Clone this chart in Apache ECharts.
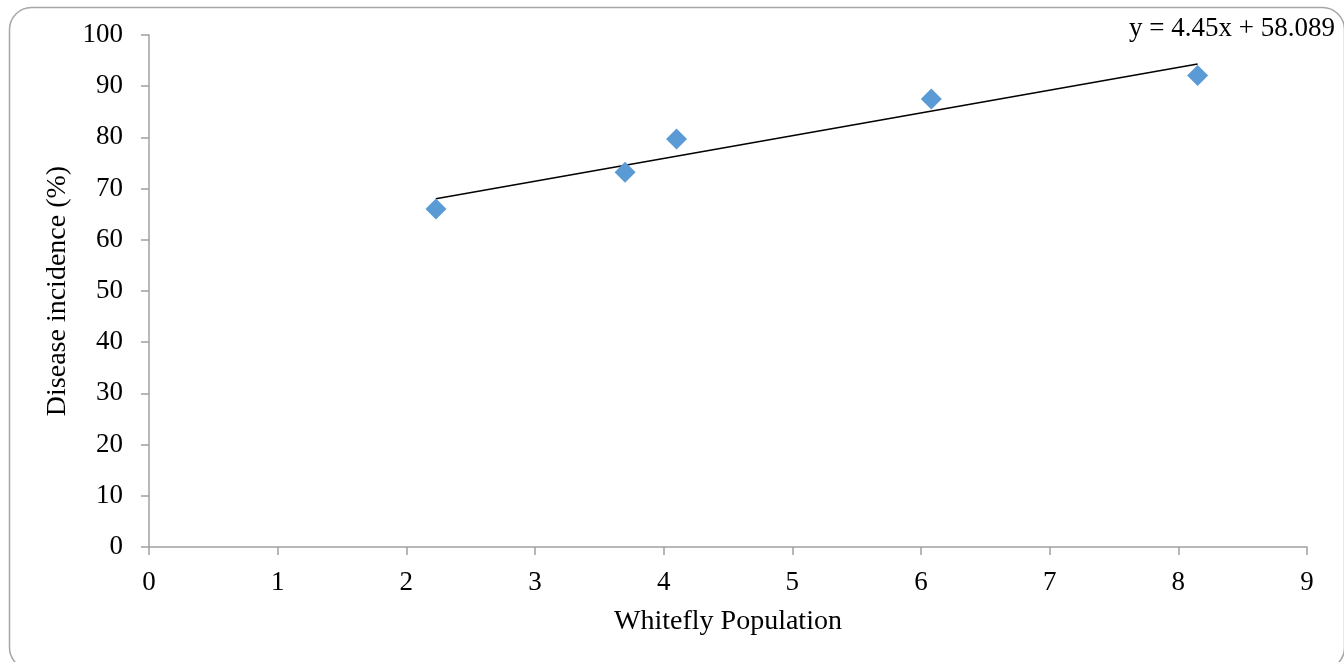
<!DOCTYPE html>
<html>
<head>
<meta charset="utf-8">
<script src="https://cdn.jsdelivr.net/npm/echarts@6/dist/echarts.min.js"></script>
<style>
html,body{margin:0;padding:0;background:#fff;}
#c{width:1344px;height:662px;}
</style>
</head>
<body>
<div id="c"></div>
<script>
// Data
var whiteflyX = [2.23, 3.70, 4.10, 6.08, 8.15];
var incidenceY = [66.0, 73.2, 79.7, 87.5, 92.1];
var trendSlope = 4.45;
var trendIntercept = 58.089;
var xTicks = [0,1,2,3,4,5,6,7,8,9];
var yTicks = [0,10,20,30,40,50,60,70,80,90,100];
var equationText = 'y = 4.45x + 58.089';

var points = whiteflyX.map(function(x, i){ return [x, incidenceY[i]]; });
var xMin = Math.min.apply(null, whiteflyX), xMax = Math.max.apply(null, whiteflyX);
var trend = [[xMin, trendSlope*xMin + trendIntercept],[xMax, trendSlope*xMax + trendIntercept]];

var font = '"Liberation Serif", "DejaVu Serif", serif';
var chart = echarts.init(document.getElementById('c'));
chart.setOption({
  animation:false,
  backgroundColor:'#fff',
  graphic:[{
    type:'rect', left:7, top:5,
    shape:{x:0,y:0,width:1335,height:662,r:22},
    style:{fill:'none',stroke:'#a6a6a6',lineWidth:1.5},
    silent:true, z:-1
  },{
    type:'text', right:9, top:15,
    style:{text:equationText, font:'27px '+font, fill:'#000'}
  }],
  grid:{left:149, right:37, top:35, bottom:115, containLabel:false},
  xAxis:{
    type:'value', min:0, max:9, interval:1,
    name:'Whitefly Population', nameLocation:'middle', nameGap:61,
    nameTextStyle:{fontFamily:font, fontSize:28, color:'#000'},
    axisLine:{show:true, onZero:false, lineStyle:{color:'#a0a0a0', width:1.5}},
    axisTick:{show:true, length:8, lineStyle:{color:'#a0a0a0', width:1.5}},
    axisLabel:{fontFamily:font, fontSize:27, color:'#000', margin:22},
    splitLine:{show:false}
  },
  yAxis:{
    type:'value', min:0, max:100, interval:10,
    name:'Disease incidence (%)', nameLocation:'middle', nameGap:72, nameRotate:90,
    nameTextStyle:{fontFamily:font, fontSize:28, color:'#000'},
    axisLine:{show:true, lineStyle:{color:'#a0a0a0', width:1.5}},
    axisTick:{show:true, length:8, lineStyle:{color:'#a0a0a0', width:1.5}},
    axisLabel:{fontFamily:font, fontSize:27, color:'#000', margin:26},
    splitLine:{show:false}
  },
  series:[{
    type:'line', data:trend, symbol:'none', silent:true,
    lineStyle:{color:'#000', width:1.5}, z:2
  },{
    type:'scatter', data:points, symbol:'diamond', symbolSize:21,
    itemStyle:{color:'#5b9bd5', opacity:1}, z:3
  }]
});
</script>
</body>
</html>
